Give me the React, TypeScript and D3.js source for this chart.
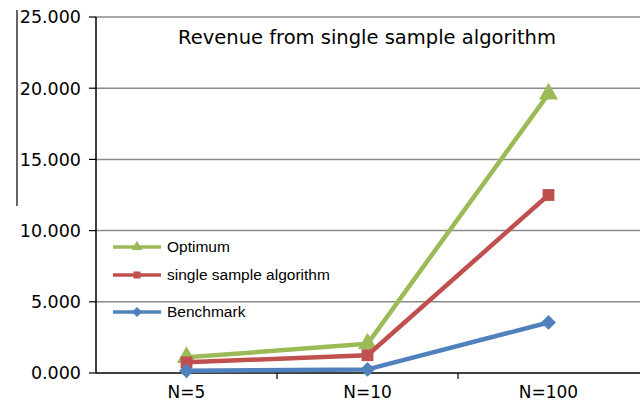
import React from "react";
import * as d3 from "d3";

const categories = ["N=5", "N=10", "N=100"];
const optimum = [1.1, 2.05, 19.6];
const singleSample = [0.75, 1.25, 12.5];
const benchmark = [0.15, 0.25, 3.55];
const yTicks = [0, 5, 10, 15, 20, 25];
const seriesNames = ["Optimum", "single sample algorithm", "Benchmark"];
const title = "Revenue from single sample algorithm";

const W = 642, H = 408;
const left = 96, right = 640, top = 17, bottom = 373;

export default function App() {
  const x = d3.scaleBand<string>().domain(categories).range([left, left + 543]);
  const y = d3.scaleLinear().domain([0, 25]).range([bottom, top]);
  const line = d3.line<number>()
    .x((_, i) => (x(categories[i]) as number) + x.bandwidth() / 2)
    .y((d) => y(d));
  const series = [
    { name: seriesNames[0], data: optimum, color: "#9BBB59", marker: d3.symbolTriangle, size: 160, rot: 0 },
    { name: seriesNames[1], data: singleSample, color: "#C0504D", marker: d3.symbolSquare, size: 140, rot: 0 },
    { name: seriesNames[2], data: benchmark, color: "#4F81BD", marker: d3.symbolSquare, size: 110, rot: 45 },
  ];
  const legendY = [247, 275, 312];
  return (
    <svg width={W} height={H} style={{ position: "absolute", left: 0, top: 0, background: "#fff" }}>
      <rect width={W} height={H} fill="#fff" />
      <line x1={17} x2={17} y1={10} y2={206} stroke="#000" strokeWidth={1.2} />
      {yTicks.map((t) => (
        <g key={t}>
          {t > 0 && <line x1={left} x2={right} y1={y(t)} y2={y(t)} stroke="#8a8a8a" strokeWidth={1.5} />}
          <line x1={89} x2={left} y1={y(t)} y2={y(t)} stroke="#000" strokeWidth={1.2} />
          <text x={81} y={y(t)} dy="0.36em" textAnchor="end" fontFamily="DejaVu Sans" fontSize={17.5} fill="#000">
            {t.toFixed(3)}
          </text>
        </g>
      ))}
      <line x1={left} x2={left} y1={top} y2={bottom} stroke="#000" strokeWidth={1.5} />
      <line x1={left} x2={right} y1={bottom} y2={bottom} stroke="#000" strokeWidth={1.5} />
      {categories.map((c, i) => (
        <g key={c}>
          {i > 0 && <line x1={x(c)} x2={x(c)} y1={bottom} y2={bottom + 6} stroke="#000" strokeWidth={1.2} />}
          <text x={(x(c) as number) + x.bandwidth() / 2} y={398} textAnchor="middle" fontFamily="DejaVu Sans" fontSize={17} fill="#000">
            {c}
          </text>
        </g>
      ))}
      <text x={367} y={44} textAnchor="middle" fontFamily="DejaVu Sans" fontSize={19.5} fill="#000">{title}</text>
      {series.map((s) => (
        <g key={s.name}>
          <path d={line(s.data) as string} fill="none" stroke={s.color} strokeWidth={4.5} strokeLinejoin="round" />
          {s.data.map((v, i) => (
            <path
              key={i}
              d={d3.symbol().type(s.marker).size(s.size)() as string}
              transform={`translate(${(x(categories[i]) as number) + x.bandwidth() / 2},${y(v)}) rotate(${s.rot})`}
              fill={s.color}
            />
          ))}
        </g>
      ))}
      {series.map((s, i) => (
        <g key={s.name} transform={`translate(0,${legendY[i]})`}>
          <line x1={113} x2={161} y1={0} y2={0} stroke={s.color} strokeWidth={3.5} />
          <path d={d3.symbol().type(s.marker).size(50)() as string} transform={`translate(137,0) rotate(${s.rot})`} fill={s.color} />
          <text x={167} y={0} dy="0.35em" fontFamily="Liberation Sans" fontSize={15.5} fill="#000">{s.name}</text>
        </g>
      ))}
    </svg>
  );
}
